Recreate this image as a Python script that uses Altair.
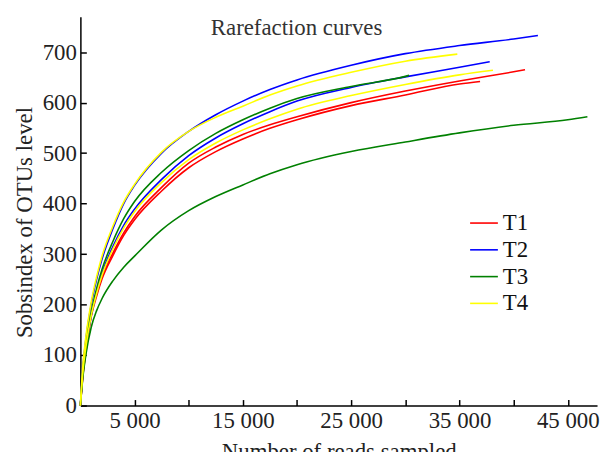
import altair as alt
import pandas as pd

# ---- data (reads sampled -> Sobs index) ----
T1a_x = [0, 250, 500, 1000, 1500, 2000, 3000, 4000, 5000, 7500, 10000, 12500, 15000, 17500, 20000, 25000, 30000, 35000, 40000, 41050]
T1a_y = [0, 65, 108, 180, 222, 256, 302, 342, 374, 432, 480, 512, 537, 556, 572, 600, 623, 643, 661, 665]
T1b_x = [0, 250, 500, 1000, 1500, 2000, 3000, 4000, 5000, 7500, 10000, 12500, 15000, 17500, 20000, 25000, 30000, 35000, 36900]
T1b_y = [0, 63, 105, 176, 217, 251, 297, 337, 368, 425, 471, 503, 528, 549, 566, 594, 615, 637, 642]
T2a_x = [0, 250, 500, 1000, 1500, 2000, 3000, 4000, 5000, 7500, 10000, 12500, 15000, 17500, 20000, 25000, 30000, 35000, 40000, 42240]
T2a_y = [0, 80, 130, 200, 250, 290, 350, 400, 436, 500, 543, 576, 603, 626, 645, 674, 697, 713, 726, 733]
T2b_x = [0, 250, 500, 1000, 1500, 2000, 3000, 4000, 5000, 7500, 10000, 12500, 15000, 17500, 20000, 25000, 30000, 35000, 37790]
T2b_y = [0, 70, 115, 178, 225, 262, 315, 357, 389, 448, 495, 530, 558, 582, 603, 630, 651, 670, 681]
T3a_x = [0, 250, 500, 1000, 1500, 2000, 3000, 4000, 5000, 7500, 10000, 12500, 15000, 17500, 20000, 25000, 30000, 30350]
T3a_y = [0, 75, 120, 185, 232, 270, 325, 370, 404, 462, 505, 539, 566, 589, 608, 632, 652, 654]
T3b_x = [0, 250, 500, 1000, 1500, 2000, 3000, 4000, 5000, 7500, 10000, 12500, 15000, 17500, 20000, 25000, 30000, 35000, 40000, 45000, 46810]
T3b_y = [0, 60, 100, 155, 188, 212, 247, 274, 296, 348, 386, 414, 437, 459, 477, 503, 522, 540, 555, 566, 572]
T4a_x = [0, 250, 500, 1000, 1500, 2000, 3000, 4000, 5000, 7500, 10000, 12500, 15000, 17500, 20000, 25000, 30000, 34800]
T4a_y = [0, 85, 135, 205, 255, 296, 355, 403, 438, 502, 543, 571, 593, 615, 633, 660, 682, 696]
T4b_x = [0, 250, 500, 1000, 1500, 2000, 3000, 4000, 5000, 7500, 10000, 12500, 15000, 17500, 20000, 25000, 30000, 35000, 38090]
T4b_y = [0, 72, 115, 178, 222, 258, 310, 352, 384, 442, 487, 520, 546, 568, 587, 614, 636, 655, 664]

groups = ["T1", "T2", "T3", "T4"]
colors = ["#ff0000", "#0000ff", "#008000", "#ffff00"]
x_label_values = [5000, 15000, 25000, 35000, 45000]
x_tick_values = [5000, 10000, 15000, 20000, 25000, 30000, 35000, 40000, 45000]
y_values = [0, 100, 200, 300, 400, 500, 600, 700]

series = [
    ("T1", "T1a", T1a_x, T1a_y), ("T1", "T1b", T1b_x, T1b_y),
    ("T2", "T2a", T2a_x, T2a_y), ("T2", "T2b", T2b_x, T2b_y),
    ("T3", "T3a", T3a_x, T3a_y), ("T3", "T3b", T3b_x, T3b_y),
    ("T4", "T4a", T4a_x, T4a_y), ("T4", "T4b", T4b_x, T4b_y),
]
rows = []
for g, s, xs, ys in series:
    for xv, yv in zip(xs, ys):
        rows.append({"group": g, "sample": s, "reads": xv, "sobs": yv})
df = pd.DataFrame(rows)

FONT = "Liberation Serif"
FS = 23
W, H = 521, 392

xscale = alt.Scale(domain=[0, 47700], nice=False, zero=False)
yscale = alt.Scale(domain=[0, 770], nice=False)

lines = alt.Chart(df).mark_line(strokeWidth=1.6, interpolate="monotone").encode(
    x=alt.X("reads:Q", scale=xscale,
            axis=alt.Axis(title="Number of reads sampled", values=x_label_values, ticks=False,
                          labelExpr="replace(format(datum.value, ','), ',', ' ')",
                          grid=False, domainColor="black", domainWidth=1.5,
                          labelPadding=4, titlePadding=8, orient="bottom")),
    y=alt.Y("sobs:Q", scale=yscale,
            axis=alt.Axis(title="Sobsindex of OTUs level", values=y_values, ticks=False,
                          grid=False, domainColor="black", domainWidth=1.5,
                          labelPadding=4, titlePadding=6, titleY=207, orient="left")),
    color=alt.Color("group:N", scale=alt.Scale(domain=groups, range=colors),
                    legend=alt.Legend(title=None, orient="none", legendX=392, legendY=193,
                                      symbolType="stroke", symbolSize=784, symbolStrokeWidth=1.6,
                                      labelFontSize=FS, labelFont=FONT, labelColor="#111",
                                      labelOffset=4, rowPadding=-5, padding=0)),
    detail="sample:N",
)

tick_layer = alt.Chart(df).mark_point(opacity=0).encode(
    x=alt.X("reads:Q", scale=xscale,
            axis=alt.Axis(orient="top", offset=-H, values=x_tick_values, labels=False, domain=False,
                          ticks=True, tickSize=6, tickWidth=1.5, tickColor="black", grid=False, title=None)),
    y=alt.Y("sobs:Q", scale=yscale,
            axis=alt.Axis(orient="right", offset=-W, values=y_values, labels=False, domain=False,
                          ticks=True, tickSize=6, tickWidth=1.5, tickColor="black", grid=False, title=None)),
    detail="sample:N",
)

title_df = pd.DataFrame({"t": ["Rarefaction curves"]})
title = alt.Chart(title_df).mark_text(font=FONT, fontSize=FS, color="#333", align="center",
                                      baseline="alphabetic").encode(
    text="t:N", x=alt.value(218), y=alt.value(18)
)

chart = alt.layer(lines, tick_layer, title).resolve_axis(x="independent", y="independent").properties(
    width=W, height=H,
    autosize=alt.AutoSizeParams(type="none"),
    padding={"left": 73, "top": 7, "right": 5, "bottom": 45},
).configure_view(stroke=None).configure_axis(
    labelFont=FONT, titleFont=FONT, labelFontSize=FS, titleFontSize=FS,
    labelColor="#222", titleColor="#222", titleFontWeight="normal",
)

chart.save("out.html", embed_options={"renderer": "svg", "actions": False})
